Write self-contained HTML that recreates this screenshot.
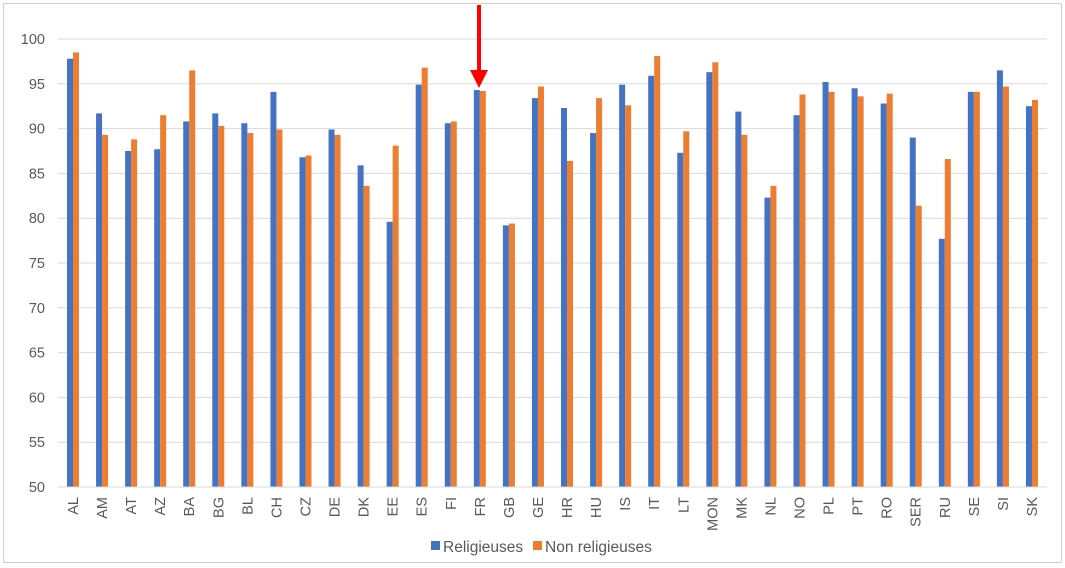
<!DOCTYPE html>
<html><head><meta charset="utf-8"><style>
html,body{margin:0;padding:0;background:#fff;}
svg{display:block;font-family:"Liberation Sans",Arial,sans-serif;}
</style></head><body>
<svg id="c" width="1065" height="568" xmlns="http://www.w3.org/2000/svg">
<rect x="3.5" y="3.5" width="1058" height="559" fill="#fff" stroke="#d0d0d0"/>
</svg>
<script>
const s=document.getElementById('c'),NS='http://www.w3.org/2000/svg';
function el(t,a,txt){const e=document.createElementNS(NS,t);for(const k in a)e.setAttribute(k,a[k]);if(txt!==undefined)e.textContent=txt;s.appendChild(e);return e;}
const y0=487,py=8.96;const Y=v=>y0-(v-50)*py;
for(let v=50;v<=100;v+=5){el('line',{x1:58,x2:1047,y1:Y(v),y2:Y(v),stroke:'#d9d9d9','stroke-width':1});
el('text',{x:45,y:Y(v)+5,'text-anchor':'end','font-size':14.5,fill:'#595959'},String(v));}
const d=[["AL",97.8,98.5],["AM",91.7,89.3],["AT",87.5,88.8],["AZ",87.7,91.5],["BA",90.8,96.5],["BG",91.7,90.3],["BL",90.6,89.5],["CH",94.1,89.9],["CZ",86.8,87.0],["DE",89.9,89.3],["DK",85.9,83.6],["EE",79.6,88.1],["ES",94.9,96.8],["FI",90.6,90.8],["FR",94.3,94.2],["GB",79.2,79.4],["GE",93.4,94.7],["HR",92.3,86.4],["HU",89.5,93.4],["IS",94.9,92.6],["IT",95.9,98.1],["LT",87.3,89.7],["MON",96.3,97.4],["MK",91.9,89.3],["NL",82.3,83.6],["NO",91.5,93.8],["PL",95.2,94.1],["PT",94.5,93.6],["RO",92.8,93.9],["SER",89.0,81.4],["RU",77.7,86.6],["SE",94.1,94.1],["SI",96.5,94.7],["SK",92.5,93.2]];
d.forEach((r,i)=>{const cx=73+i*29.06;
el('rect',{x:cx-6,y:Y(r[1]),width:6,height:y0-Y(r[1]),fill:'#4472C4'});
el('rect',{x:cx,y:Y(r[2]),width:6,height:y0-Y(r[2]),fill:'#ED7D31'});
el('text',{x:0,y:0,transform:`translate(${cx+5},497) rotate(-90)`,'text-anchor':'end','font-size':14.5,fill:'#595959'},r[0]);});
el('line',{x1:58,x2:1047,y1:y0,y2:y0,stroke:'#d9d9d9'});
el('rect',{x:431,y:541,width:9,height:9,fill:'#4472C4'});
el('text',{x:443,y:552,'font-size':15.5,fill:'#595959'},'Religieuses');
el('rect',{x:533,y:541,width:9,height:9,fill:'#ED7D31'});
el('text',{x:545,y:552,'font-size':15.5,fill:'#595959'},'Non religieuses');
el('line',{x1:479,x2:479,y1:5,y2:74,stroke:'#ff0000','stroke-width':4});
el('polygon',{points:'470,70 488,70 479,88',fill:'#ff0000'});
</script>
</body></html>
